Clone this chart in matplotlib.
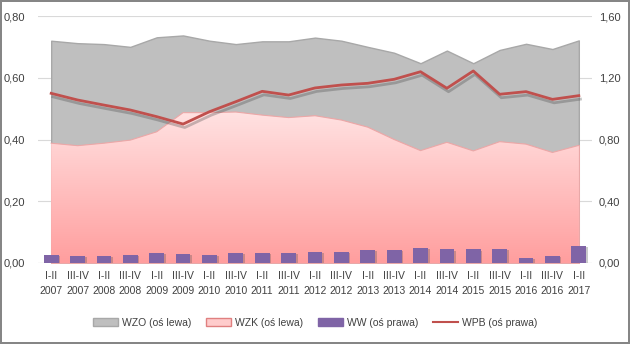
import matplotlib
matplotlib.use('Agg')
import matplotlib.pyplot as plt
import matplotlib.patheffects as pe
from matplotlib.patches import Patch
from matplotlib.lines import Line2D
import numpy as np

plt.rcParams['font.family'] = ['Liberation Sans', 'DejaVu Sans']

periods = ['I-II', 'III-IV'] * 10 + ['I-II']
years = [str(2007 + i // 2) for i in range(21)]
labels = [p + '\n' + y for p, y in zip(periods, years)]

# left axis
wzo = [0.720, 0.712, 0.709, 0.700, 0.731, 0.737, 0.720, 0.709, 0.718, 0.718, 0.730,
       0.720, 0.700, 0.681, 0.647, 0.688, 0.647, 0.690, 0.710, 0.693, 0.721]
wzk = [0.388, 0.380, 0.388, 0.398, 0.425, 0.487, 0.487, 0.489, 0.479, 0.471, 0.477,
       0.463, 0.440, 0.400, 0.364, 0.391, 0.363, 0.393, 0.385, 0.358, 0.381]
# right axis
ww = [0.052, 0.045, 0.045, 0.052, 0.065, 0.058, 0.052, 0.065, 0.065, 0.065, 0.073,
      0.073, 0.084, 0.084, 0.099, 0.089, 0.089, 0.090, 0.034, 0.047, 0.112]
wpb = [1.099, 1.056, 1.023, 0.991, 0.948, 0.900, 0.980, 1.045, 1.112, 1.088, 1.134,
       1.153, 1.164, 1.190, 1.239, 1.132, 1.244, 1.093, 1.110, 1.060, 1.084]

x = np.arange(len(labels))
fs = 7.5

fig = plt.figure(figsize=(6.3, 3.44), dpi=100, linewidth=1.5, edgecolor='#868686')
ax = fig.add_axes([38 / 630, 1 - 263 / 344, 554 / 630, 247 / 344])
ax2 = ax.twinx()

ax.set_axisbelow(True)
ax.fill_between(x, 0, wzo, color='#bfbfbf', edgecolor='#a8a8a8', linewidth=1, zorder=1)
pink = ax.fill_between(x, 0, wzk, color='#ffc8c8', edgecolor='#e8a8a8', linewidth=1, zorder=2)

# pink area gets a vertical gradient like the original
grad = np.linspace(0, 1, 256).reshape(-1, 1)
cmap = matplotlib.colors.LinearSegmentedColormap.from_list('p', ['#ff9e9e', '#ffe2e2'])
im = ax.imshow(grad, extent=[x[0], x[-1], 0, 0.49], origin='lower', cmap=cmap,
               aspect='auto', zorder=2)
im.set_clip_path(pink.get_paths()[0], transform=ax.transData)
ax.plot(x, wzk, color='#eaa8a8', lw=0.8, zorder=3)

ax.set_xlim(-0.5, len(x) - 0.5)
ax.set_ylim(0, 0.8)
ax.set_yticks([0, 0.2, 0.4, 0.6, 0.8])
ax.set_yticklabels(['0,00', '0,20', '0,40', '0,60', '0,80'])
ax.grid(axis='y', color='#d9d9d9', lw=0.8)
ax.set_xticks(x)
ax.set_xticklabels(labels, fontsize=fs, linespacing=1.6)

bars = ax2.bar(x, ww, width=0.56, color='#7f64a6', zorder=3)
for b in bars:
    b.set_path_effects([pe.SimplePatchShadow(offset=(1.2, -1), shadow_rgbFace='#505050', alpha=0.3),
                        pe.Normal()])
ax2.plot(x, wpb, color='#c0504d', lw=2,
         path_effects=[pe.SimpleLineShadow(offset=(1.2, -2.5), shadow_color='#404040', alpha=0.3),
                       pe.Normal()], zorder=4)
ax2.set_ylim(0, 1.6)
ax2.set_yticks([0, 0.4, 0.8, 1.2, 1.6])
ax2.set_yticklabels(['0,00', '0,40', '0,80', '1,20', '1,60'])

for a in (ax, ax2):
    for s in a.spines.values():
        s.set_visible(False)
    a.tick_params(length=0, labelsize=fs + 0.5, colors='#404040')
ax.tick_params(axis='x', labelsize=fs)
ax.tick_params(axis='y', pad=9)
ax.tick_params(axis='x', pad=6)
ax2.tick_params(axis='y', pad=5)
ax.axhline(0, color='#bfbfbf', lw=0.8, zorder=0)

handles = [Patch(facecolor='#bfbfbf', edgecolor='#a8a8a8'),
           Patch(facecolor='#ffcccc', edgecolor='#e08080'),
           Patch(facecolor='#7f64a6', edgecolor='#7f64a6'),
           Line2D([], [], color='#c0504d', lw=1.5)]
names = ['WZO (oś lewa)', 'WZK (oś lewa)', 'WW (oś prawa)', 'WPB (oś prawa)']
fig.legend(handles, names, loc='center', bbox_to_anchor=(0.5, 1 - 323 / 344), ncol=4,
           frameon=False, fontsize=fs, handlelength=2.4, handleheight=0.8,
           columnspacing=1.4, handletextpad=0.4, labelcolor='#404040')

fig.savefig('out.png', dpi=100)
